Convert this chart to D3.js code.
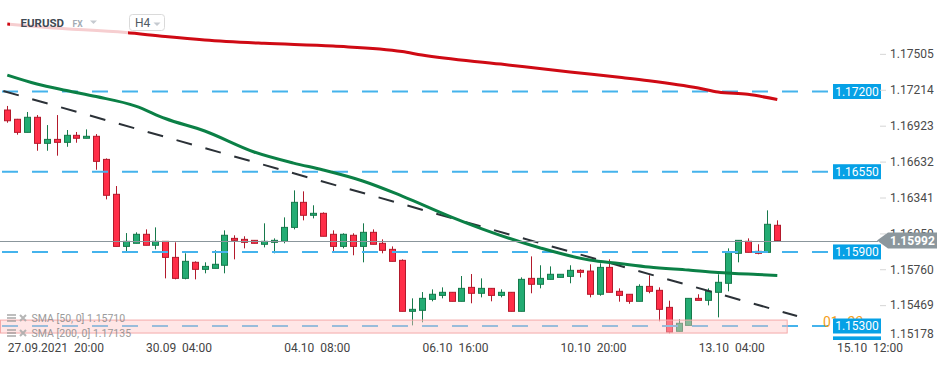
<!DOCTYPE html>
<html>
<head>
<meta charset="utf-8">
<script src="https://cdn.jsdelivr.net/npm/d3@7"></script>
<style>
  html, body { margin: 0; padding: 0; background: #fff; }
  svg { display: block; font-family: Roboto, "Open Sans", sans-serif; }
  text { white-space: pre; }
</style>
</head>
<body>
<svg id="chart" width="950" height="365"></svg>
<script>
// EURUSD H4 candles
const opens  = [1.17050,1.16975,1.16869,1.16991,1.16780,1.16812,1.16788,1.16845,1.16821,1.16837,
                1.16650,1.16367,1.15945,1.15970,1.16043,1.15954,1.15986,1.15856,1.15686,1.15816,
                1.15759,1.15767,1.15792,1.16010,1.16002,1.15994,1.15962,1.15978,1.15986,1.16099,
                1.16302,1.16197,1.16213,1.16043,1.15945,1.16035,1.15945,1.16059,1.15970,1.15921,
                1.15832,1.15419,1.15427,1.15516,1.15548,1.15573,1.15500,1.15613,1.15565,1.15605,
                1.15548,1.15573,1.15419,1.15686,1.15638,1.15678,1.15694,1.15702,1.15751,1.15745,
                1.15557,1.15775,1.15581,1.15557,1.15500,1.15621,1.15589,1.15451,1.15257,1.15305,
                1.15524,1.15508,1.15573,1.15646,1.15889,1.15986,1.15905,1.15897,1.16116];
const highs  = [1.17083,1.16978,1.17034,1.17009,1.16928,1.17009,1.16888,1.16872,1.16893,1.16855,
                1.16658,1.16434,1.16053,1.16059,1.16083,1.16099,1.15986,1.15978,1.15889,1.15824,
                1.15816,1.15913,1.16075,1.16035,1.16027,1.15994,1.16132,1.16010,1.16180,1.16399,
                1.16391,1.16278,1.16221,1.16075,1.16051,1.16051,1.16132,1.16083,1.16002,1.15945,
                1.15840,1.15524,1.15575,1.15597,1.15613,1.15573,1.15705,1.15721,1.15686,1.15605,
                1.15597,1.15573,1.15694,1.15864,1.15792,1.15783,1.15719,1.15792,1.15759,1.15800,
                1.15808,1.15840,1.15605,1.15557,1.15638,1.15711,1.15613,1.15505,1.15354,1.15524,
                1.15557,1.15605,1.15719,1.15929,1.15994,1.16010,1.15962,1.16237,1.16156];
const lows   = [1.16947,1.16850,1.16869,1.16720,1.16720,1.16680,1.16752,1.16785,1.16821,1.16566,
                1.16326,1.15945,1.15894,1.15970,1.15954,1.15921,1.15686,1.15678,1.15678,1.15678,
                1.15727,1.15767,1.15727,1.15840,1.15929,1.15970,1.15937,1.15889,1.15970,1.16083,
                1.16156,1.16172,1.16027,1.15905,1.15929,1.15873,1.15816,1.15962,1.15889,1.15824,
                1.15419,1.15305,1.15330,1.15500,1.15524,1.15500,1.15500,1.15484,1.15532,1.15500,
                1.15532,1.15419,1.15419,1.15565,1.15605,1.15678,1.15694,1.15646,1.15694,1.15532,
                1.15545,1.15573,1.15497,1.15480,1.15500,1.15565,1.15338,1.15241,1.15257,1.15305,
                1.15508,1.15467,1.15370,1.15581,1.15816,1.15897,1.15881,1.15897,1.15985];
const closes = [1.16963,1.16869,1.16991,1.16780,1.16812,1.16788,1.16845,1.16821,1.16837,1.16634,
                1.16359,1.15945,1.15986,1.16043,1.15954,1.15986,1.15856,1.15686,1.15824,1.15759,
                1.15783,1.15800,1.16035,1.15994,1.15978,1.15970,1.15986,1.15994,1.16099,1.16302,
                1.16197,1.16213,1.16027,1.15945,1.16043,1.15945,1.16059,1.15962,1.15913,1.15824,
                1.15419,1.15435,1.15524,1.15557,1.15573,1.15500,1.15605,1.15565,1.15605,1.15548,
                1.15573,1.15419,1.15678,1.15638,1.15686,1.15719,1.15719,1.15751,1.15735,1.15557,
                1.15775,1.15573,1.15548,1.15500,1.15621,1.15581,1.15435,1.15251,1.15322,1.15524,
                1.15508,1.15581,1.15654,1.15897,1.15994,1.15897,1.15889,1.16124,1.15992];

// moving averages, sampled at candle indexes
const sma50Idx  = [0, 3, 6, 9, 13, 16, 20, 25, 29, 32, 36, 40, 45, 49, 54, 59, 62, 65, 69, 72, 76, 78];
const sma50Val  = [1.17333,1.17261,1.17208,1.17159,1.17082,1.16981,1.16880,1.16710,1.16620,1.16564,1.16475,
                   1.16353,1.16183,1.16061,1.15932,1.15834,1.15806,1.15778,1.15753,1.15733,1.15717,1.15710];
const sma200Idx = [0, 4, 12, 16, 20, 26, 33, 40, 42, 50, 57, 62, 65, 70, 72, 75, 78];
const sma200Val = [1.17747,1.17718,1.17678,1.17645,1.17617,1.17590,1.17568,1.17524,1.17495,1.17422,1.17358,
                   1.17315,1.17287,1.17228,1.17196,1.17177,1.17135];

const trendIdx = [-0.4, 80];
const trendVal = [1.17204, 1.15381];

const levels = [1.17200, 1.16550, 1.15900, 1.15300, 1.15155];
const zone = [1.15348, 1.15243];
const lastPrice = 1.15992;

const priceTicks = [1.17505, 1.17214, 1.16923, 1.16632, 1.16341, 1.16050, 1.15760, 1.15469, 1.15178];
const timeIdx = [0, 14, 28, 42, 56, 70, 84];
const timeLabels = ["27.09.2021  20:00", "30.09  04:00", "04.10  08:00", "06.10  16:00",
                    "10.10  20:00", "13.10  04:00", "15.10  12:00"];

const svg = d3.select("#chart");
const plotW = 882, plotH = 340;

const x = d3.scaleLinear().domain([0, 78]).range([7.3, 777.3]);
const y = d3.scaleLinear().domain([1.15300, 1.17200]).range([326, 91.5]);

svg.append("rect").attr("width", 950).attr("height", 365).attr("fill", "#fff");

svg.append("clipPath").attr("id", "plot")
  .append("rect").attr("width", plotW).attr("height", plotH);

const plot = svg.append("g").attr("clip-path", "url(#plot)");

// candles
const cand = d3.range(opens.length).map(i => ({
  i, o: opens[i], h: highs[i], l: lows[i], c: closes[i], up: closes[i] >= opens[i]
}));

const cg = plot.append("g");
cg.selectAll("line.wick").data(cand).enter().append("line")
  .attr("class", "wick")
  .attr("x1", d => Math.round(x(d.i)) + 0.5)
  .attr("x2", d => Math.round(x(d.i)) + 0.5)
  .attr("y1", d => y(d.h))
  .attr("y2", d => y(d.l))
  .attr("stroke", d => d.up ? "#16794b" : "#b3192b")
  .attr("stroke-width", 1);

cg.selectAll("rect.body").data(cand).enter().append("rect")
  .attr("class", "body")
  .attr("x", d => Math.round(x(d.i)) - 2.5)
  .attr("width", 6)
  .attr("y", d => y(Math.max(d.o, d.c)))
  .attr("height", d => Math.max(1, Math.abs(y(d.o) - y(d.c))))
  .attr("fill", d => d.up ? "#23ac73" : "#ff2e48")
  .attr("stroke", d => d.up ? "#16794b" : "#b3192b")
  .attr("stroke-width", 1);

// horizontal levels
plot.selectAll("line.level").data(levels).enter().append("line")
  .attr("class", "level")
  .attr("x1", 2).attr("x2", 833)
  .attr("y1", d => y(d)).attr("y2", d => y(d))
  .attr("stroke", "#45b3ec")
  .attr("stroke-width", 2)
  .attr("stroke-dasharray", "16,14");

// trend line
const line = d3.line().x(d => x(d[0])).y(d => y(d[1]));
plot.append("path")
  .attr("d", line(d3.zip(trendIdx, trendVal)))
  .attr("fill", "none")
  .attr("stroke", "#2b3137")
  .attr("stroke-width", 2)
  .attr("stroke-dasharray", "16,14");

// moving averages
const smooth = d3.line().x(d => x(d[0])).y(d => y(d[1])).curve(d3.curveMonotoneX);
plot.append("path")
  .attr("d", smooth(d3.zip(sma50Idx, sma50Val)))
  .attr("fill", "none").attr("stroke", "#0b8046").attr("stroke-width", 3);
plot.append("path")
  .attr("d", smooth(d3.zip(sma200Idx, sma200Val)))
  .attr("fill", "none").attr("stroke", "#cf0a14").attr("stroke-width", 3);

// support zone
plot.append("rect")
  .attr("x", 0.5).attr("width", x(79) - 0.5)
  .attr("y", y(zone[0])).attr("height", y(zone[1]) - y(zone[0]))
  .attr("fill", "rgba(255,200,200,0.45)")
  .attr("stroke", "#f4a9a9").attr("stroke-width", 1);

// last price line
plot.append("line")
  .attr("x1", 0).attr("x2", 878)
  .attr("y1", Math.round(y(lastPrice)) + 0.5).attr("y2", Math.round(y(lastPrice)) + 0.5)
  .attr("stroke", "#8b969c").attr("stroke-width", 1);

// countdown (mostly hidden behind the label)
const cd = plot.append("text").attr("x", 823).attr("y", y(levels[3]) + 0.5);
cd.append("tspan").text("01").attr("font-size", 14).attr("fill", "#f5a01a");
cd.append("tspan").text("h ").attr("font-size", 11).attr("fill", "#9a9a9a");
cd.append("tspan").text("23").attr("font-size", 14).attr("fill", "#f5a01a");
cd.append("tspan").text("m").attr("font-size", 11).attr("fill", "#9a9a9a");

// level labels
const lab = plot.selectAll("g.lab").data(levels).enter().append("g")
  .attr("class", "lab")
  .attr("transform", d => `translate(833,${y(d)})`);
lab.append("rect").attr("y", -7.5).attr("width", 48).attr("height", 15).attr("fill", "#06a1e6");
lab.filter(d => y(d) + 7.5 <= plotH)
  .append("text").attr("x", 24).attr("dy", "0.36em").attr("text-anchor", "middle")
  .attr("fill", "#fff").attr("font-size", 12).text(d => d.toFixed(5));

// price axis
const yAxis = d3.axisRight(y).tickValues(priceTicks).tickSize(6).tickPadding(4)
  .tickFormat(d3.format(".5f"));
const ya = svg.append("g").attr("transform", "translate(880,0)").call(yAxis);
ya.select(".domain").remove();
ya.selectAll(".tick line").attr("stroke", "#d6d6d6");
ya.selectAll(".tick text").attr("fill", "#4a4a4a").attr("font-size", 12)
  .attr("font-family", "Roboto, sans-serif");
ya.selectAll(".tick").filter(d => y(d) > plotH - 6)
  .attr("transform", `translate(0,${plotH - 6})`)
  .select("line").remove();

// last price tag
const yc = y(lastPrice);
svg.append("path")
  .attr("d", `M877,${yc} L888,${yc - 8} L937,${yc - 8} L937,${yc + 8} L888,${yc + 8} Z`)
  .attr("fill", "#8c979d");
svg.append("text").attr("x", 890).attr("y", yc).attr("dy", "0.36em")
  .attr("fill", "#fff").attr("font-size", 12).attr("font-weight", "bold")
  .text(lastPrice.toFixed(5));

// time axis labels
svg.selectAll("text.time").data(timeIdx).enter().append("text")
  .attr("class", "time")
  .attr("x", d => x(d) + 0.5)
  .attr("y", 352)
  .attr("fill", "#444").attr("font-size", 12)
  .text((d, i) => timeLabels[i]);

// header
svg.append("rect").attr("x", 10).attr("y", 9).attr("width", 118).attr("height", 27)
  .attr("fill", "#fff").attr("opacity", 0.8);
svg.append("text").attr("x", 20.5).attr("y", 27.3).attr("font-size", 11.5).attr("font-weight", "bold")
  .attr("fill", "#3f4a54").text("EURUSD");
svg.append("text").attr("x", 72.5).attr("y", 27.3).attr("font-size", 8.5).attr("font-weight", "bold")
  .attr("fill", "#a3abb3").text("FX");
svg.append("path").attr("d", "M90,20.5 L97,20.5 L93.5,24 Z").attr("fill", "#c5cad0");
svg.append("rect").attr("x", 129.5).attr("y", 14.5).attr("width", 35).attr("height", 16).attr("rx", 3)
  .attr("fill", "#fff").attr("stroke", "#dadada");
svg.append("text").attr("x", 135).attr("y", 27).attr("font-size", 12).attr("fill", "#505a63").text("H4");
svg.append("path").attr("d", "M153.5,22.5 L160.5,22.5 L157,26 Z").attr("fill", "#c5cad0");

// indicator legend
const legendRows = [
  "SMA [50, 0] " + sma50Val[sma50Val.length - 1].toFixed(5),
  "SMA [200, 0] " + sma200Val[sma200Val.length - 1].toFixed(5)
];
const lg = svg.selectAll("g.leg").data(legendRows).enter().append("g")
  .attr("class", "leg")
  .attr("transform", (d, i) => `translate(0,${318 + i * 15})`)
  .attr("opacity", 0.85);
[-3, 0, 3].forEach(o => {
  lg.append("rect").attr("x", 7).attr("y", o - 0.75).attr("width", 9).attr("height", 1.5).attr("fill", "#9a9a9a");
});
lg.append("path").attr("d", "M20,-3 L26,3 M26,-3 L20,3")
  .attr("stroke", "#aaa").attr("stroke-width", 2);
lg.append("text").attr("x", 31.5).attr("dy", "0.36em").attr("font-size", 10.5)
  .attr("fill", "#8a8a8a").text(d => d);
</script>
</body>
</html>
